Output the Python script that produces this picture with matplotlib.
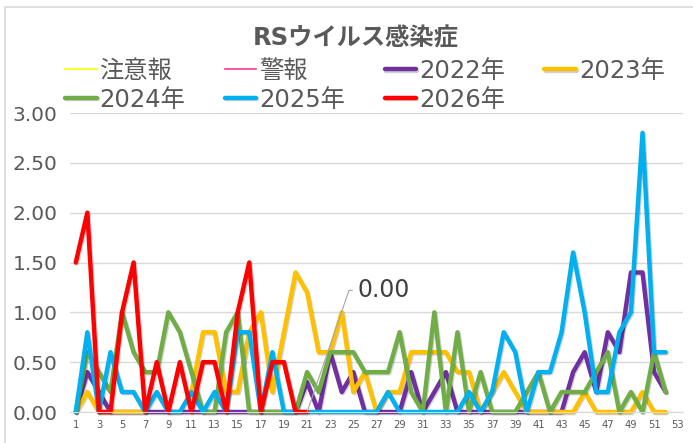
import numpy as np
import matplotlib
matplotlib.use("Agg")
import matplotlib.pyplot as plt
import matplotlib.patheffects as pe
from matplotlib.patches import Rectangle

plt.rcParams['font.family'] = ['DejaVu Sans', 'Noto Sans CJK JP']

nan = np.nan

# week numbers on the category axis
weeks = list(range(1, 54))
tick_weeks = list(range(1, 54, 2))

# alert lines (no values shown on this chart)
chuiho = []
keiho = []

# weekly values per sentinel, weeks 1..52 (2026 so far up to week 21)
y2022 = [0, 0.4, 0.2, 0, 0, 0, 0, 0, 0, 0,
         0, 0, 0, 0, 0, 0, 0, 0, 0, 0,
         0.3, 0, 0.6, 0.2, 0.4, 0, 0, 0, 0, 0.4,
         0, 0.2, 0.4, 0, 0, 0, 0, 0, 0, 0,
         0, 0, 0, 0.4, 0.6, 0.2, 0.8, 0.6, 1.4, 1.4,
         0.4, 0.2]
y2023 = [0, 0.2, 0, 0, 0, 0, 0, nan, nan, nan,
         0.2, 0.8, 0.8, 0.2, 0.2, 0.8, 1.0, 0.2, 0.8, 1.4,
         1.2, 0.6, 0.6, 1.0, 0.2, 0.4, 0, 0.2, 0.2, 0.6,
         0.6, 0.6, 0.6, 0.4, 0.4, 0, 0.2, 0.4, 0.2, 0,
         0, 0, 0, 0, 0.2, 0, 0, 0, 0, 0.2,
         0, 0]
y2024 = [0, 0.6, 0.4, 0.2, 1.0, 0.6, 0.4, 0.4, 1.0, 0.8,
         0.4, 0, 0, 0.8, 1.0, 0, 0, 0, 0, 0,
         0.4, 0.2, 0.6, 0.6, 0.6, 0.4, 0.4, 0.4, 0.8, 0.2,
         0, 1.0, 0, 0.8, 0, 0.4, 0, 0, 0, 0.2,
         0.4, 0, 0.2, 0.2, 0.2, 0.4, 0.6, 0, 0.2, 0,
         0.6, 0.2]
y2025 = [0, 0.8, 0, 0.6, 0.2, 0.2, 0, 0.2, 0, 0,
         0.2, 0, 0.2, 0, 0.8, 0.8, 0, 0.6, 0, 0,
         0, 0, 0, 0, 0, 0, 0, 0.2, 0, 0,
         0, 0, 0, 0, 0.2, 0, 0.2, 0.8, 0.6, 0,
         0.4, 0.4, 0.8, 1.6, 1.0, 0.2, 0.2, 0.8, 1.0, 2.8,
         0.6, 0.6]
y2026 = [1.5, 2.0, 0, 0, 1.0, 1.5, 0, 0.5, 0, 0.5,
         0, 0.5, 0.5, 0, 1.0, 1.5, 0, 0.5, 0.5, 0,
         0]

series = [
    ("2022年", y2022, "#7030A0"),
    ("2023年", y2023, "#FFC000"),
    ("2024年", y2024, "#70AD47"),
    ("2025年", y2025, "#00B0F0"),
    ("2026年", y2026, "#FF0000"),
]

grey = "#595959"

fig = plt.figure(figsize=(6.93, 4.43), dpi=100)
ax = fig.add_axes([70 / 693, 31 / 443, 613 / 693, 299 / 443])

# thin threshold lines first (legend only)
handles = []
h, = ax.plot(chuiho, color="#FFFF00", lw=1.2, label="注意報")
handles.append(h)
h, = ax.plot(keiho, color="#FF3399", lw=1.2, label="警報")
handles.append(h)

shadow = [pe.SimpleLineShadow(offset=(0.8, -0.8), shadow_color="black", alpha=0.18),
          pe.Normal()]
for name, vals, col in series:
    h, = ax.plot(weeks[:len(vals)], vals, color=col, lw=3.2, label=name,
                 solid_joinstyle="round", solid_capstyle="round",
                 clip_on=False, path_effects=shadow)
    handles.append(h)

# data label on the last 2026 point
last_week = len(y2026)
ax.annotate("{:.2f}".format(y2026[-1]), xy=(weeks[last_week - 1], y2026[-1]),
            xytext=(25.4, 1.22), textcoords="data",
            fontsize=17, color="#404040", ha="left", va="center",
            arrowprops=dict(arrowstyle="-", color="#A6A6A6", lw=0.8,
                            shrinkA=2, shrinkB=0, relpos=(0, 0.5),
                            connectionstyle="angle,angleA=0,angleB=71,rad=0"))

ax.set_xlim(0.5, 53.5)
ax.set_ylim(0, 3)
ax.set_yticks(np.arange(0, 3.01, 0.5))
ax.set_yticklabels(["{:.2f}".format(v) for v in np.arange(0, 3.01, 0.5)])
ax.set_xticks(tick_weeks)
ax.set_xticklabels([str(w) for w in tick_weeks])
ax.tick_params(axis="y", length=0, pad=9, labelsize=14.5, labelcolor=grey)
ax.tick_params(axis="x", length=0, pad=6, labelsize=7.2, labelcolor=grey)
ax.grid(axis="y", color="#D9D9D9", lw=1.0)
ax.set_axisbelow(True)
for s in ["top", "right", "left"]:
    ax.spines[s].set_visible(False)
ax.spines["bottom"].set_color("#D9D9D9")

# title and legend above the plot area
fig.text(356 / 693, 1 - 38 / 443, "RSウイルス感染症", ha="center", va="center",
         fontsize=17.5, fontweight="bold", color=grey)

order = [0, 4, 1, 5, 2, 6, 3]
leg = fig.legend([handles[i] for i in order], [handles[i].get_label() for i in order],
                 ncol=4, loc="upper left", bbox_to_anchor=(65 / 693, 1 - 59 / 443),
                 bbox_transform=fig.transFigure, frameon=False, fontsize=17.5,
                 handlelength=1.3, handletextpad=0.12, columnspacing=1.62,
                 labelspacing=0.2, borderpad=0, borderaxespad=0)
for t in leg.get_texts():
    t.set_color(grey)

# chart area border
fig.patches.append(Rectangle((5 / 693, -0.1), 1.2, 1 - 7 / 443 + 0.1,
                             transform=fig.transFigure, fill=False,
                             edgecolor="#D9D9D9", lw=1.2))

fig.savefig("out.png", dpi=100)
